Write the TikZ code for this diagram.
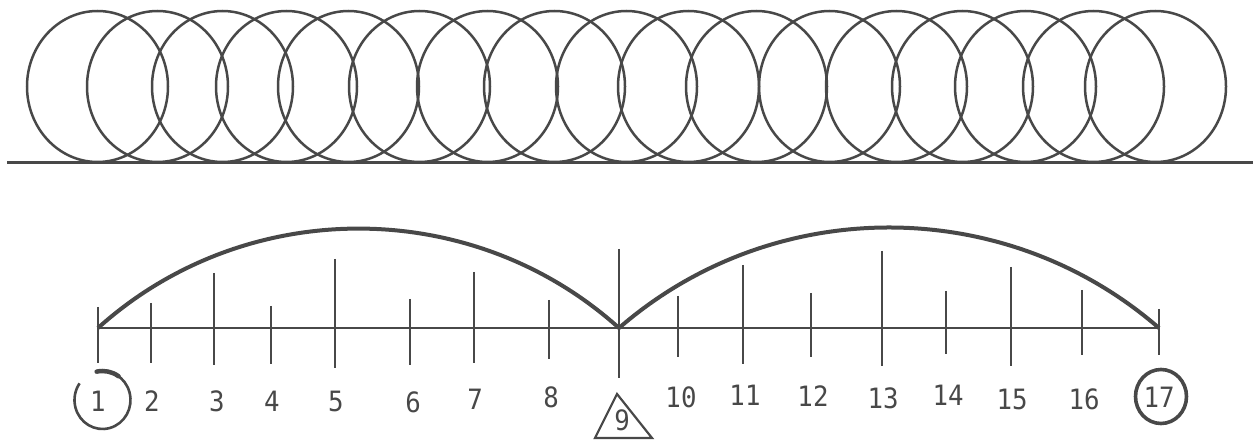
\documentclass[tikz,border=0pt]{standalone}
\usepackage{fontspec}
\newfontfamily\digitfont{DejaVu Sans Mono}
\definecolor{ink}{RGB}{72,72,72}
\tikzset{
  ring/.style={draw=ink, line width=2.5pt},
  groundline/.style={draw=ink, line width=3pt},
  axisline/.style={draw=ink, line width=2.2pt},
  tickmark/.style={draw=ink, line width=2.6pt},
  hop/.style={draw=ink, line width=4pt},
  numlabel/.style={text=ink, inner sep=0pt, xscale=0.92, font=\digitfont\fontsize{28}{28}\selectfont},
  markline/.style={draw=ink, line width=2.6pt}
}
\begin{document}
\begin{tikzpicture}[x=1pt,y=-1pt]
\useasboundingbox (0,0) rectangle (1256,443);
% top row of rolling circles
\foreach \cx [count=\i] in {97.5,157.5,222.5,286.5,348.5,419.5,487.5,554.5,626.5,688.5,756.5,829.5,896.5,962.5,1025.5,1093.5,1155.5}{
  \draw[ring] (\cx,86.5) ellipse [x radius=70.5, y radius=75.5];
}
\coordinate (g0) at (7,163);
\coordinate (g1) at (1253,163);
\draw[groundline] (g0) -- (g1);
% number line ticks
\foreach \tx/\ttop/\tbot [count=\i] in {98/307/363,151/303/363,214/273/365,271/306/364,335/259/368,410/299/365,474/272/363,549/300/359,619/249/378,678/296/357,743/265/364,811/293/357,882/251/366,946/291/354,1011/267/366,1082/290/355,1159/309/355}{
  \coordinate (t\i) at (\tx,328);
  \coordinate (tu\i) at (\tx,\ttop);
  \coordinate (td\i) at (\tx,\tbot);
  \draw[tickmark] (tu\i) -- (td\i);
}
\draw[axisline] (t1) -- (t17);
% hops
\draw[hop] (t1) to[out=42, in=138, looseness=0.975] (t9);
\draw[hop] (t9) to[out=41, in=139, looseness=0.97] (t17);
% labels
\foreach \lx/\ly/\txt [count=\i] in {98/401/1,152/401/2,217/401/3,272/401/4,336/401/5,413/402/6,475/399/7,551/397/8,622/420/9,681/397/10,745/395/11,813/396/12,883/398/13,948/395/14,1012/399/15,1084/399/16,1159/397/17}{
  \node[numlabel] (n\i) at (\lx,\ly) {\txt};
}
% open hand-drawn circle round 1
\coordinate (c1) at (102.5,400);
\draw[markline] ([shift={(-105:28 and 29)}]c1) arc[start angle=-105, end angle=215, x radius=28, y radius=29];
\draw[draw=ink, line width=4.5pt, line cap=round] ([shift={(-102:28 and 29)}]c1) arc[start angle=-102, end angle=-55, x radius=28, y radius=29];
% triangle round 9
\coordinate (ta) at (617,394);
\coordinate (tb) at (595,438);
\coordinate (tc) at (652,438);
\draw[draw=ink, line width=2.2pt, line join=miter] (ta) -- (tb) -- (tc) -- cycle;
% circle round 17
\coordinate (c17) at (1161,396.5);
\draw[draw=ink, line width=3.6pt] (c17) ellipse [x radius=25.5, y radius=27];
\end{tikzpicture}
\end{document}
